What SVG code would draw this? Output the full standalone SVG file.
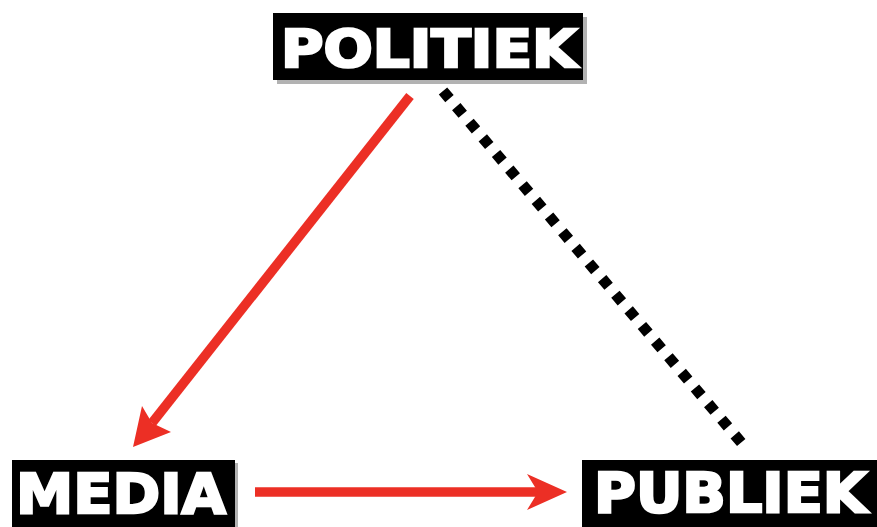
<svg xmlns="http://www.w3.org/2000/svg" width="877" height="527" viewBox="0 0 877 527">
<defs>
<style>
.box{fill:#000}
.shadow{fill:#000;opacity:0.3}
.lbl{fill:#fff;stroke:#fff;stroke-width:2.5;font-family:"DejaVu Sans",sans-serif;font-weight:bold;font-size:52px}
.red{stroke:#ec2f25;stroke-width:9.5;fill:none}
.head{fill:#ec2f25}
.dot{stroke:#000;stroke-width:11;stroke-dasharray:10 10.5;fill:none}
</style>
</defs>
<g id="connectors">
<line class="red" x1="410" y1="96" x2="152" y2="423"/>
<polygon class="head" points="133,447 142,406 152,423 171,432"/>
<line class="red" x1="255" y1="492" x2="540" y2="492"/>
<polygon class="head" points="567,492 527,474 538,492 527,510"/>
<line class="dot" x1="443" y1="91" x2="745" y2="447"/>
</g>
<g id="politiek">
<rect class="shadow" x="277" y="17" width="310" height="67"/>
<rect class="box" x="273" y="13" width="310" height="67"/>
<text class="lbl" x="281" y="67" style="font-size:51px" textLength="296" lengthAdjust="spacingAndGlyphs">POLITIEK</text>
</g>
<g id="media">
<rect class="shadow" x="15" y="463" width="223" height="70"/>
<rect class="box" x="12" y="460" width="223" height="70"/>
<text class="lbl" x="16" y="513" style="font-size:56px" textLength="210" lengthAdjust="spacingAndGlyphs">MEDIA</text>
</g>
<g id="publiek">
<rect class="box" x="582" y="460" width="300" height="70"/>
<text class="lbl" x="594" y="512" style="font-size:55px" textLength="273" lengthAdjust="spacingAndGlyphs">PUBLIEK</text>
</g>
</svg>
